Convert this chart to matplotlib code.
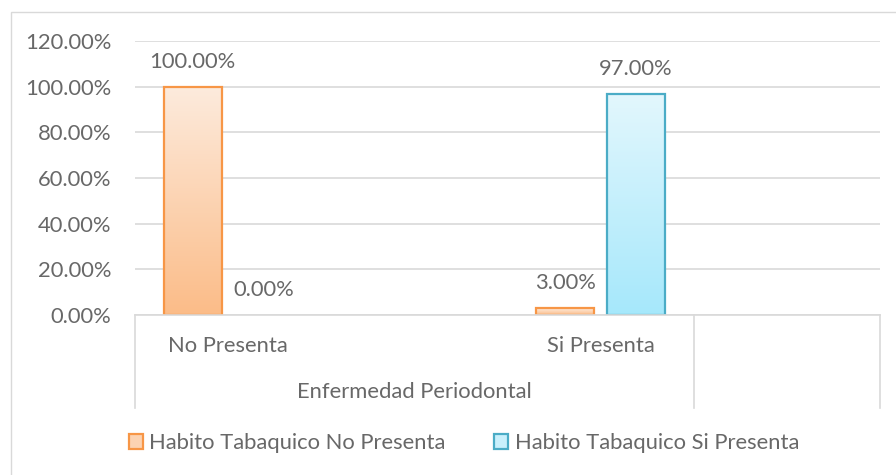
import matplotlib.pyplot as plt
import numpy as np
from matplotlib.colors import LinearSegmentedColormap
from matplotlib.patches import Rectangle, Patch
from matplotlib.lines import Line2D

# datos del grafico
categorias = ["No Presenta", "", "Si Presenta", ""]
grupo = "Enfermedad Periodontal"
series = ["Habito Tabaquico No Presenta", "Habito Tabaquico Si Presenta"]
tab_no = [100.0, None, 3.0, None]
tab_si = [0.0, None, 97.0, None]
yticks = [0, 20, 40, 60, 80, 100, 120]

plt.rcParams['font.family'] = ['Lato', 'DejaVu Sans']
gris = '#686868'
linea = '#D9D9D9'
fs = 15.8

fig = plt.figure(figsize=(8.96, 4.75), dpi=100)
ax = fig.add_axes([135 / 896, 1 - 315 / 475, 745 / 896, 274 / 475])

# borde del area del grafico
fig.patches.append(Rectangle((11 / 896, -0.05), 1.0, 1 - 12 / 475 + 0.05,
                             transform=fig.transFigure, facecolor='none',
                             edgecolor=linea, lw=1.0))

ancho = 0.311
desp = 0.19
estilos = [
    (tab_no, -desp, '#F79646', ['#FBBC88', '#FDEBDD']),
    (tab_si, desp, '#4BACC6', ['#A6E8FB', '#E3F7FD']),
]

x = np.arange(len(categorias))
for valores, off, borde, grad in estilos:
    cmap = LinearSegmentedColormap.from_list('g', grad)
    for xi, v in zip(x, valores):
        if v is None:
            continue
        if v > 0:
            barra = ax.bar(xi + off, v, width=ancho, facecolor='none',
                           edgecolor=borde, lw=1.6, zorder=3)[0]
            img = ax.imshow(np.linspace(0, 1, 256).reshape(-1, 1),
                            extent=[xi + off - ancho / 2, xi + off + ancho / 2, 0, v],
                            origin='lower', aspect='auto', cmap=cmap, zorder=2)
            img.set_clip_path(barra)
        ax.annotate(f'{v:.2f}%', (xi + off, v), xytext=(0, 18),
                    textcoords='offset points', ha='center', va='center',
                    color=gris, fontsize=fs)

ax.set_xlim(-0.5, len(categorias) - 0.5)
ax.set_ylim(0, 120)
ax.set_yticks(yticks)
ax.set_yticklabels([f'{t:.2f}%' for t in yticks])
ax.tick_params(axis='y', length=0, pad=17, labelsize=fs, labelcolor=gris)
ax.set_xticks([])
ax.grid(axis='y', color=linea, lw=1.2, zorder=0)
for s in ['top', 'right', 'left']:
    ax.spines[s].set_visible(False)
ax.spines['bottom'].set_color(linea)
ax.spines['bottom'].set_linewidth(1.2)
ax.spines['bottom'].set_zorder(4)

# etiquetas de categorias (dos niveles)
h = 274.0
trans = ax.get_xaxis_transform()
for xi, c in zip(x, categorias):
    if c:
        ax.text(xi, -31 / h, c, transform=trans, ha='center', va='center',
                color=gris, fontsize=fs)
ax.text(1, -77 / h, grupo, transform=trans, ha='center', va='center',
        color=gris, fontsize=fs)
for xs in [-0.5, 2.5, 3.5]:
    ax.add_line(Line2D([xs, xs], [0, -93 / h], transform=trans, color=linea,
                       lw=1.2, clip_on=False))

handles = [Patch(facecolor='#FCD3B2', edgecolor='#F79646', lw=1.6),
           Patch(facecolor='#C9F0FC', edgecolor='#4BACC6', lw=1.6)]
fig.legend(handles, series, loc='center', bbox_to_anchor=(464 / 896, 1 - 443 / 475),
           ncol=2, frameon=False, handlelength=0.64, handleheight=0.64,
           handletextpad=0.3, columnspacing=2.2, fontsize=fs, labelcolor=gris)

fig.savefig('out.png', dpi=100)
